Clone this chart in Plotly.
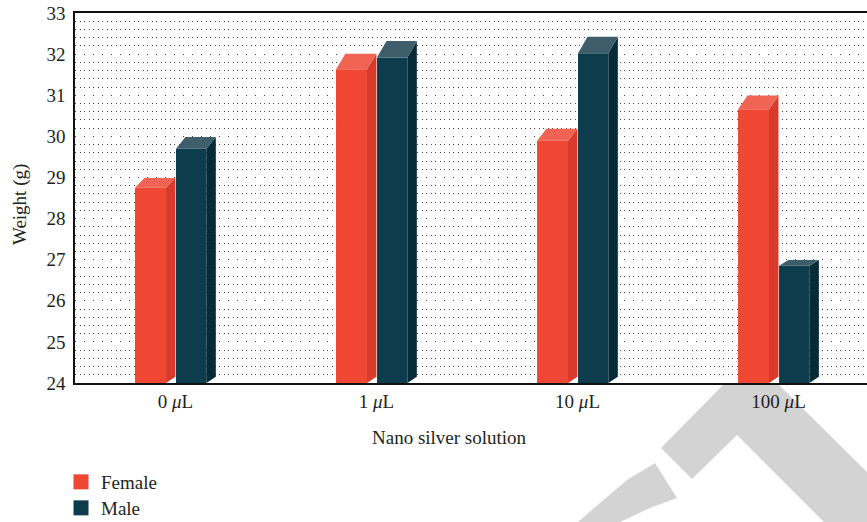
import plotly.graph_objects as go

# ---------------- data ----------------
categories = ["0 <i>μ</i>L", "1 <i>μ</i>L", "10 <i>μ</i>L", "100 <i>μ</i>L"]
female = [28.75, 31.63, 29.89, 30.66]
male = [29.70, 31.92, 32.02, 26.85]
y_title = "Weight (g)"
x_title = "Nano silver solution"

# ---------------- style ----------------
W, H = 867, 522
ML, MR, MT, MB = 75, 0, 13, 139
FONT = 'Liberation Serif, "Times New Roman", Times, "DejaVu Serif", serif'
FS = 19
TXT = "#231F20"
Y0, Y1 = 24, 33
XR = [-0.5, 3.44]

F_FRONT, F_SIDE, F_TOP = "#EF4733", "#D93A2C", "#F16352"
M_FRONT, M_SIDE, M_TOP = "#0D3C4D", "#052B38", "#3E5E6C"

DX = 0.047          # depth offset along x (category units)
DYB = 0.15          # back-bottom lift (y units)
KTOP = 0.05         # top depth grows with bar height

F_OFF, F_W = -0.2015, 0.154
M_OFF, M_W = 0.0025, 0.151

xs = list(range(len(categories)))


def faces(vals, off, w):
    side_x, side_y, top_x, top_y = [], [], [], []
    for x, v in zip(xs, vals):
        xl = x + off
        xr = xl + w
        dyt = KTOP * (v - Y0)
        side_x += [xr, xr, xr + DX, xr + DX, xr, None]
        side_y += [Y0, v, v + dyt, Y0 + DYB, Y0, None]
        top_x += [xl, xr, xr + DX, xl + DX, xl, None]
        top_y += [v, v, v + dyt, v + dyt, v, None]
    return side_x, side_y, top_x, top_y


fig = go.Figure()

for vals, off, w, cf, cs, ct, name in [
    (female, F_OFF, F_W, F_FRONT, F_SIDE, F_TOP, "Female"),
    (male, M_OFF, M_W, M_FRONT, M_SIDE, M_TOP, "Male"),
]:
    fig.add_trace(go.Bar(x=xs, y=vals, offset=off, width=w,
                         marker=dict(color=cf, line=dict(width=0)),
                         showlegend=False, name=name))
    sx, sy, tx, ty = faces(vals, off, w)
    fig.add_trace(go.Scatter(x=sx, y=sy, mode="lines", fill="toself",
                             fillcolor=cs, line=dict(width=0, color=cs),
                             showlegend=False, hoverinfo="skip"))
    fig.add_trace(go.Scatter(x=tx, y=ty, mode="lines", fill="toself",
                             fillcolor=ct, line=dict(width=0, color=ct),
                             showlegend=False, hoverinfo="skip"))

# legend-only traces
fig.add_trace(go.Scatter(x=[None], y=[None], mode="markers", name="Female",
                         marker=dict(symbol="square", size=15, color=F_FRONT),
                         legend="legend"))
fig.add_trace(go.Scatter(x=[None], y=[None], mode="markers", name="Male",
                         marker=dict(symbol="square", size=15, color=M_FRONT),
                         legend="legend2"))

PW = W - ML - MR
PH = H - MT - MB


def px(x):
    return (x - ML) / PW


def py(y):
    return (H - MB - y) / PH


def path(pts):
    s = "M " + " L ".join(f"{px(a):.4f},{py(b):.4f}" for a, b in pts) + " Z"
    return s


wm1 = [(724, 384), (661, 448), (692, 479), (737, 435), (824, 522),
       (867, 522), (867, 472), (778, 384)]
wm2 = [(578, 522), (600, 503), (627, 480), (655, 463), (677, 498),
       (650, 508), (620, 522)]
shapes = []
for pts in (wm1, wm2):
    shapes.append(dict(type="path", xref="paper", yref="paper", path=path(pts),
                       fillcolor="#D3D3D3", line=dict(width=0), layer="below"))

leg_common = dict(font=dict(family=FONT, size=FS, color=TXT),
                  bgcolor="rgba(0,0,0,0)", xanchor="left", yanchor="middle",
                  itemwidth=30, x=px(61))

fig.update_layout(
    width=W, height=H,
    margin=dict(l=ML, r=MR, t=MT, b=MB, pad=0, autoexpand=False),
    paper_bgcolor="white", plot_bgcolor="white",
    font=dict(family=FONT, size=FS, color=TXT),
    barmode="overlay",
    showlegend=True,
    legend=dict(y=py(482), **leg_common),
    legend2=dict(y=py(508), **leg_common),
    shapes=shapes,
    annotations=[
        dict(text=x_title, xref="paper", yref="paper",
             x=px(449), y=py(437), xanchor="center", yanchor="middle",
             showarrow=False, font=dict(family=FONT, size=FS, color=TXT)),
        dict(text=y_title, xref="paper", yref="paper", textangle=-90,
             x=px(20), y=py(205), xanchor="center", yanchor="middle",
             showarrow=False, font=dict(family=FONT, size=FS, color=TXT)),
    ],
    xaxis=dict(range=XR, tickvals=xs, ticktext=categories,
               showgrid=False, zeroline=False,
               showline=True, linecolor="#111", linewidth=1.6, mirror=True,
               ticks="", ticklabelstandoff=0,
               tickfont=dict(family=FONT, size=FS, color=TXT)),
    yaxis=dict(range=[Y0, Y1], dtick=1, tick0=Y0,
               showline=True, linecolor="#111", linewidth=1.6, mirror=False,
               zeroline=False, ticks="", ticklabelstandoff=4,
               tickfont=dict(family=FONT, size=FS, color=TXT),
               showgrid=True, gridcolor="#444", gridwidth=1, griddash="1px,8px",
               minor=dict(dtick=0.2, showgrid=True, gridcolor="#444",
                          gridwidth=1, griddash="1px,3.5px")),
)

fig.write_html("out.html")
